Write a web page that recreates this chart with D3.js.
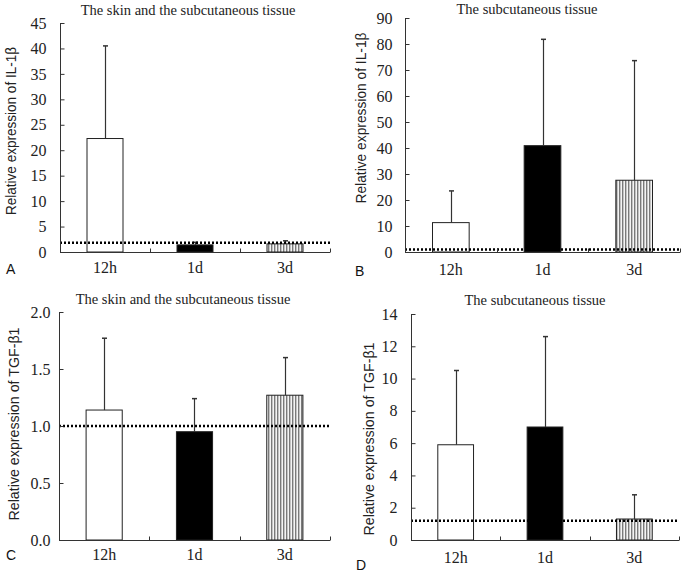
<!DOCTYPE html>
<html>
<head>
<meta charset="utf-8">
<script src="https://cdn.jsdelivr.net/npm/d3@7"></script>
<style>
  html, body { margin: 0; padding: 0; background: #fff; }
  svg { display: block; }
</style>
</head>
<body>
<svg id="chart" width="684" height="574"></svg>
<script>
// ---- Data ----
const categories = ["12h", "1d", "3d"];

const il1bSkinMean = [22.3, 1.4, 1.6];
const il1bSkinSD   = [18.2, 0.5, 0.6];
const il1bSkinTicks = [0, 5, 10, 15, 20, 25, 30, 35, 40, 45];

const il1bSubMean = [11.3, 40.9, 27.6];
const il1bSubSD   = [12.2, 40.9, 46.0];
const il1bSubTicks = [0, 10, 20, 30, 40, 50, 60, 70, 80, 90];

const tgfSkinMean = [1.14, 0.95, 1.27];
const tgfSkinSD   = [0.63, 0.29, 0.33];
const tgfSkinTicks = [0.0, 0.5, 1.0, 1.5, 2.0];

const tgfSubMean = [5.9, 7.0, 1.3];
const tgfSubSD   = [4.6, 5.6, 1.5];
const tgfSubTicks = [0, 2, 4, 6, 8, 10, 12, 14];

const referenceLevels = [1.8, 1.0, 1.0, 1.2];
const panelTitles = ["The skin and the subcutaneous tissue", "The subcutaneous tissue",
                     "The skin and the subcutaneous tissue", "The subcutaneous tissue"];
const yLabels = ["Relative expression of IL-1\u03b2", "Relative expression of IL-1\u03b2",
                 "Relative expression of  TGF-\u03b21", "Relative expression of  TGF-\u03b21"];
const panelLetters = ["A", "B", "C", "D"];

// ---- Layout (positions only) ----
const panels = [
  { mean: il1bSkinMean, sd: il1bSkinSD, ticks: il1bSkinTicks, fmt: d3.format("d"),
    x0: 60, x1: 330, yT: 23, yB: 252, titleX: 188, titleY: 15, labX: 10, labY: 131, labLen: 168,
    letX: 6, letY: 274, tickGap: 14, xLabY: 273 },
  { mean: il1bSubMean, sd: il1bSubSD, ticks: il1bSubTicks, fmt: d3.format("d"),
    x0: 405, x1: 680, yT: 18, yB: 252, titleX: 527, titleY: 14, labX: 360, labY: 118, labLen: 171,
    letX: 355, letY: 276, tickGap: 13, xLabY: 275 },
  { mean: tgfSkinMean, sd: tgfSkinSD, ticks: tgfSkinTicks, fmt: d3.format(".1f"),
    x0: 59, x1: 330, yT: 312, yB: 540, titleX: 183, titleY: 304, labX: 13, labY: 424, labLen: 193,
    letX: 6, letY: 560, tickGap: 9, xLabY: 560 },
  { mean: tgfSubMean, sd: tgfSubSD, ticks: tgfSubTicks, fmt: d3.format("d"),
    x0: 411, x1: 679, yT: 314, yB: 540, titleX: 535, titleY: 305, labX: 368, labY: 439, labLen: 193,
    letX: 356, letY: 570, tickGap: 14, xLabY: 563 }
];

const fills = ["#ffffff", "#000000", "url(#stripes)"];
const svg = d3.select("#chart");

// stripe pattern
const defs = svg.append("defs");
const pat = defs.append("pattern").attr("id", "stripes")
  .attr("patternUnits", "userSpaceOnUse").attr("width", 3).attr("height", 10);
pat.append("rect").attr("width", 3).attr("height", 10).attr("fill", "#f4f4f4");
pat.append("rect").attr("x", 1).attr("width", 1.4).attr("height", 10).attr("fill", "#7a7a7a");

const serif = "'Liberation Serif', 'DejaVu Serif', serif";
const sans = "'Liberation Sans', Arial, sans-serif";

panels.forEach((p, i) => {
  const g = svg.append("g");
  const maxV = p.ticks[p.ticks.length - 1];
  const y = d3.scaleLinear().domain([0, maxV]).range([p.yB, p.yT]);
  const x = d3.scaleBand().domain(categories).range([p.x0, p.x1]).padding(0);
  const bw = x.bandwidth() * 0.4;

  // bars
  g.selectAll("rect.bar").data(categories).enter().append("rect")
    .attr("x", (c) => x(c) + (x.bandwidth() - bw) / 2)
    .attr("y", (c, j) => y(p.mean[j]))
    .attr("width", bw)
    .attr("height", (c, j) => y(0) - y(p.mean[j]))
    .attr("fill", (c, j) => fills[j])
    .attr("stroke", "#222").attr("stroke-width", 1);

  // error bars (upper only)
  categories.forEach((c, j) => {
    const cx = Math.round(x(c) + x.bandwidth() / 2) + 0.5;
    const top = y(p.mean[j] + p.sd[j]);
    g.append("line").attr("x1", cx).attr("x2", cx)
      .attr("y1", y(p.mean[j])).attr("y2", top)
      .attr("stroke", "#333").attr("stroke-width", 1.2);
    g.append("line").attr("x1", cx - 2.5).attr("x2", cx + 2.5)
      .attr("y1", top).attr("y2", top)
      .attr("stroke", "#333").attr("stroke-width", 1.5);
  });

  // reference dotted line
  g.append("line").attr("x1", p.x0).attr("x2", p.x1)
    .attr("y1", y(referenceLevels[i])).attr("y2", y(referenceLevels[i]))
    .attr("stroke", "#000").attr("stroke-width", 2.5)
    .attr("stroke-dasharray", "2,2");

  // y axis
  const yAxis = d3.axisLeft(y).tickValues(p.ticks).tickFormat(p.fmt)
    .tickSizeInner(-4).tickSizeOuter(0).tickPadding(p.tickGap);
  const ya = g.append("g").attr("transform", `translate(${p.x0 + 0.5},0)`).call(yAxis);
  ya.attr("font-family", serif).attr("font-size", 16);
  ya.select(".domain").attr("stroke", "#333").attr("d", `M0,${p.yB}V${p.yT}`);
  ya.selectAll(".tick line").attr("stroke", "#333");
  ya.selectAll(".tick text").attr("fill", "#222");

  // x axis
  const bounds = [p.x0, p.x0 + x.step(), p.x0 + 2 * x.step(), p.x1];
  g.append("line").attr("x1", p.x0).attr("x2", p.x1)
    .attr("y1", p.yB + 0.5).attr("y2", p.yB + 0.5).attr("stroke", "#333");
  bounds.slice(1).forEach((bx) => {
    g.append("line").attr("x1", Math.round(bx) + 0.5).attr("x2", Math.round(bx) + 0.5)
      .attr("y1", p.yB + 0.5).attr("y2", p.yB - 3.5).attr("stroke", "#333");
  });
  g.selectAll("text.xl").data(categories).enter().append("text")
    .attr("x", (c) => x(c) + x.bandwidth() / 2)
    .attr("y", p.xLabY)
    .attr("text-anchor", "middle")
    .attr("font-family", serif).attr("font-size", 16).attr("fill", "#222")
    .text((c) => c);

  // title
  g.append("text").attr("x", p.titleX).attr("y", p.titleY)
    .attr("text-anchor", "middle").attr("font-family", serif).attr("font-size", 14.5)
    .attr("fill", "#222").text(panelTitles[i]);

  // y label
  g.append("text").attr("transform", `translate(${p.labX},${p.labY}) rotate(-90)`)
    .attr("text-anchor", "middle").attr("dominant-baseline", "central")
    .attr("font-family", sans).attr("font-size", 15).attr("fill", "#222")
    .attr("textLength", p.labLen).attr("lengthAdjust", "spacingAndGlyphs")
    .text(yLabels[i]);

  // panel letter
  g.append("text").attr("x", p.letX).attr("y", p.letY)
    .attr("font-family", sans).attr("font-size", 14).attr("fill", "#111")
    .text(panelLetters[i]);
});
</script>
</body>
</html>
